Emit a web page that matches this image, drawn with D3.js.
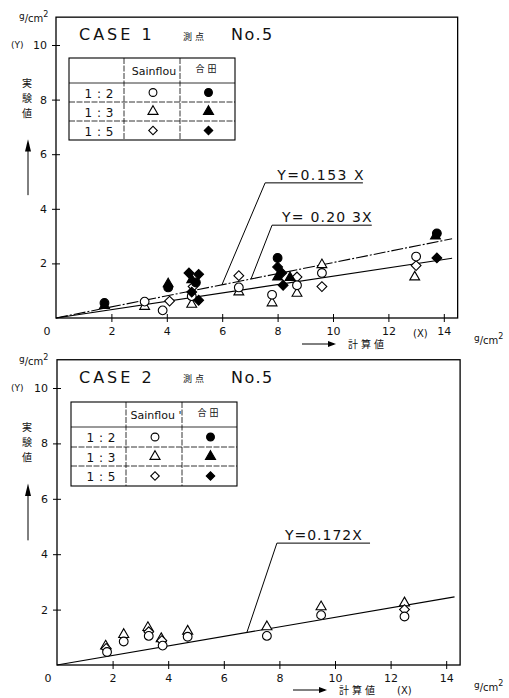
<!DOCTYPE html>
<html lang="ja">
<head>
<meta charset="utf-8">
<script src="https://d3js.org/d3.v7.min.js"></script>
<style>
  body { margin: 0; background: #fff; }
  svg { display: block; }
  text { font-family: "DejaVu Sans", "Liberation Sans", sans-serif; fill: #111; }
  .jp { font-family: "Noto Sans CJK JP", sans-serif; }
</style>
</head>
<body>
<svg width="509" height="698"></svg>
<script>
// ---- data (units g/cm2) ----
var xTicks = [2, 4, 6, 8, 10, 12, 14];
var yTicks = [2, 4, 6, 8, 10];
var ratioLabels = ["1:2", "1:3", "1:5"];

// CASE 1
var c1Sain12 = [[3.2,0.6],[3.85,0.28],[4.9,0.8],[6.6,1.12],[7.8,0.85],[8.7,1.2],[9.6,1.65],[13.0,2.25]];
var c1Sain13 = [[3.2,0.42],[4.9,0.5],[6.6,0.95],[7.8,0.55],[8.7,0.9],[9.6,1.95],[12.95,1.5]];
var c1Sain15 = [[4.1,0.62],[4.95,1.15],[6.6,1.55],[8.7,1.5],[9.6,1.15],[13.0,1.92]];
var c1Goda12 = [[1.75,0.55],[4.05,1.12],[5.05,1.3],[8.0,2.2],[13.75,3.1]];
var c1Goda13 = [[1.75,0.45],[4.05,1.25],[4.9,1.4],[8.0,1.5],[8.45,1.48],[13.7,3.0]];
var c1Goda15 = [[4.8,1.65],[5.15,1.6],[4.9,0.95],[5.15,0.65],[8.0,1.87],[8.15,1.65],[8.2,1.2],[13.75,2.2]];
var c1Slopes = [0.203, 0.153];

// CASE 2
var c2Sain12 = [[1.8,0.47],[2.4,0.85],[3.3,1.05],[3.8,0.7],[4.7,1.02],[7.55,1.05],[9.5,1.8],[12.5,1.75]];
var c2Sain13 = [[1.75,0.68],[2.4,1.1],[3.27,1.35],[3.75,0.95],[4.7,1.22],[7.55,1.38],[9.5,2.1],[12.5,2.24]];
var c2Sain15 = [[1.77,0.6],[3.3,1.2],[3.77,0.88],[12.5,2.0]];
var c2Slope = 0.172;

var svg = d3.select("svg");

function symbolPath(kind, size) {
  if (kind == "circle") return d3.symbol(d3.symbolCircle, size)();
  if (kind == "triangle") return d3.symbol(d3.symbolTriangle, size)();
  return d3.symbol(d3.symbolSquare, size)();
}

function drawMarks(g, x, y, data, kind, filled, size) {
  g.selectAll(null)
    .data(data)
    .enter().append("path")
    .attr("d", symbolPath(kind, size))
    .attr("transform", function(d) {
      return "translate(" + x(d[0]) + "," + y(d[1]) + ")" + (kind == "diamond" ? " rotate(45)" : "");
    })
    .attr("fill", filled ? "#000" : "#fff")
    .attr("stroke", "#000")
    .attr("stroke-width", 1.1);
}

function gcm(g, px, py, fs) {
  var t = g.append("text").attr("x", px).attr("y", py).attr("font-size", fs);
  t.append("tspan").attr("dy", -3).attr("font-size", fs - 1).text("g");
  t.append("tspan").attr("dy", 3).text("/cm");
  t.append("tspan").attr("dy", -5).attr("font-size", fs - 2).text("2");
}

function drawPanel(p) {
  var x = d3.scaleLinear().domain([0, 14.5]).range([p.left, p.left + 14.5 * p.xUnit]);
  var y = d3.scaleLinear().domain([0, 11.02]).range([p.bottom, p.bottom - 11.02 * p.yUnit]);
  var g = svg.append("g");

  // frame
  g.append("rect")
    .attr("x", x(0)).attr("y", y(11.02))
    .attr("width", x(14.5) - x(0)).attr("height", y(0) - y(11.02))
    .attr("fill", "none").attr("stroke", "#000").attr("stroke-width", 1.3);

  // axes with cross ticks
  g.append("g")
    .attr("transform", "translate(0," + (y(0) + 4) + ")")
    .call(d3.axisBottom(x).tickValues(xTicks).tickSize(8).tickFormat(d3.format("d")))
    .call(function(a) {
      a.select(".domain").remove();
      a.selectAll("line").attr("transform", "translate(0,-8)").attr("stroke-width", 1);
      a.selectAll("text").attr("y", 5).attr("font-size", 11).attr("font-family", "DejaVu Sans");
    });
  g.append("g")
    .attr("transform", "translate(" + (x(0) + 4) + ",0)")
    .call(d3.axisLeft(y).tickValues(yTicks).tickSize(8).tickFormat(d3.format("d")))
    .call(function(a) {
      a.select(".domain").remove();
      a.selectAll("line").attr("stroke-width", 1);
      a.selectAll("text").attr("x", -13).attr("font-size", 11).attr("font-family", "DejaVu Sans");
    });
  g.append("text").attr("x", x(0) - 9).attr("y", y(0) + 17)
    .attr("text-anchor", "middle").attr("font-size", 11).text("0");

  // axis captions
  gcm(g, 19, y(11.02) + 5, 10);
  g.append("text").attr("x", 11).attr("y", y(10) + 3).attr("font-size", 9).text("(Y)");
  var vt = g.append("text").attr("class", "jp").attr("font-size", 10).attr("text-anchor", "middle");
  ["実", "験", "値"].forEach(function(c, i) {
    vt.append("tspan").attr("x", 27).attr("y", y(8.45) + i * 15).text(c);
  });
  g.append("line").attr("x1", 28).attr("x2", 28)
    .attr("y1", y(4.5)).attr("y2", y(6.4)).attr("stroke", "#000").attr("stroke-width", 1);
  g.append("path").attr("d", d3.line()([[25, y(6.1)], [28, y(6.55)], [31, y(6.1)]]))
    .attr("fill", "#000");

  var cy = y(0) + p.capDy;
  g.append("line").attr("x1", p.arrowX).attr("x2", p.arrowX + 32)
    .attr("y1", cy - 4).attr("y2", cy - 4).attr("stroke", "#000");
  g.append("path")
    .attr("d", d3.line()([[p.arrowX + 26, cy - 7], [p.arrowX + 34, cy - 4], [p.arrowX + 26, cy - 1]]))
    .attr("fill", "#000");
  g.append("text").attr("class", "jp").attr("x", p.arrowX + 46).attr("y", cy)
    .attr("font-size", 10).attr("letter-spacing", 3).text("計算値");
  g.append("text").attr("x", p.xLabX).attr("y", cy + p.xLabDy).attr("font-size", 10).text("(X)");
  gcm(g, 474, cy + p.gcmDy, 10);

  // titles
  g.append("text").attr("x", 79).attr("y", y(10.18))
    .attr("font-size", 16).attr("letter-spacing", 3).text(p.title);
  g.append("text").attr("class", "jp").attr("x", 183).attr("y", y(10.2))
    .attr("font-size", 9).attr("letter-spacing", 3).text("測点");
  g.append("text").attr("x", 231).attr("y", y(10.18))
    .attr("font-size", 16).attr("letter-spacing", 1.5).text("No.5");

  // legend table
  var L = p.table;
  g.append("rect").attr("x", L.x0).attr("y", L.rows[0])
    .attr("width", L.x1 - L.x0).attr("height", L.rows[4] - L.rows[0])
    .attr("fill", "#fff").attr("stroke", "#000").attr("stroke-width", 1.1);
  [1, 2, 3].forEach(function(i) {
    g.append("line").attr("x1", L.x0).attr("x2", L.x1)
      .attr("y1", L.rows[i]).attr("y2", L.rows[i])
      .attr("stroke", "#000").attr("stroke-width", 0.8)
      .attr("stroke-dasharray", i == 1 ? null : "6,1.5");
  });
  L.cols.forEach(function(c) {
    g.append("line").attr("x1", c).attr("x2", c)
      .attr("y1", L.rows[0]).attr("y2", L.rows[4])
      .attr("stroke", "#000").attr("stroke-width", 0.8).attr("stroke-dasharray", "6,1.5");
  });
  g.append("text").attr("x", (L.cols[0] + L.cols[1]) / 2 + 2).attr("y", L.rows[1] - 8)
    .attr("text-anchor", "middle").attr("font-size", 11).text(p.sainText);
  g.append("text").attr("class", "jp").attr("x", (L.cols[1] + L.x1) / 2).attr("y", L.rows[1] - 11)
    .attr("text-anchor", "middle").attr("font-size", 9).attr("letter-spacing", 3).text("合田");
  var kinds = ["circle", "triangle", "diamond"];
  ratioLabels.forEach(function(r, i) {
    var ym = (L.rows[i + 1] + L.rows[i + 2]) / 2;
    g.append("text").attr("x", L.cols[0] - 10).attr("y", ym + 5)
      .attr("text-anchor", "end").attr("font-size", 12).attr("letter-spacing", 0.5).text(r.replace(":", " : "));
    [false, true].forEach(function(f, j) {
      g.append("path")
        .attr("d", symbolPath(kinds[i], kinds[i] == "triangle" ? 44 : (kinds[i] == "diamond" ? 36 : 48)))
        .attr("transform", "translate(" + ((j == 0 ? (L.cols[0] + L.cols[1]) / 2 : (L.cols[1] + L.x1) / 2) + 1) + "," + ym + ")" + (kinds[i] == "diamond" ? " rotate(45)" : ""))
        .attr("fill", f ? "#000" : "#fff").attr("stroke", "#000").attr("stroke-width", 1.1);
    });
  });

  // regression lines
  p.lines.forEach(function(ln) {
    g.append("line")
      .attr("x1", x(0)).attr("y1", y(0))
      .attr("x2", x(14.3)).attr("y2", y(14.3 * ln.k))
      .attr("stroke", "#000").attr("stroke-width", 1.1)
      .attr("stroke-dasharray", ln.dash);
  });
  p.notes.forEach(function(n) {
    g.append("path")
      .attr("d", d3.line()([[x(n.tx1), y(n.ty)], [x(n.tx0), y(n.ty)], [x(n.px), y(n.px * n.k)]]))
      .attr("fill", "none").attr("stroke", "#000").attr("stroke-width", 1);
    g.append("text").attr("x", x(n.tx0) + n.dx).attr("y", y(n.ty) - 3)
      .attr("font-size", 14).attr("letter-spacing", n.ls).text(n.label);
  });

  p.series.forEach(function(s) { drawMarks(g, x, y, s.data, s.kind, s.filled, s.size); });
}

drawPanel({
  title: "CASE 1", left: 56, bottom: 318, xUnit: 27.7, yUnit: 27.3,
  capDy: 30, arrowX: 302, xLabX: 413, xLabDy: -11, gcmDy: -4,
  sainText: "Sainflou",
  table: { x0: 69, x1: 235, rows: [58, 83, 102, 121, 140], cols: [124, 180] },
  lines: [{ k: c1Slopes[0], dash: "12,2,2,2" }, { k: c1Slopes[1], dash: null }],
  notes: [
    { label: "Y=0.153 X", tx0: 7.55, tx1: 11.08, ty: 4.95, px: 5.99, k: c1Slopes[0], dx: 12, ls: 1.5 },
    { label: "Y= 0.20 3X", tx0: 7.8, tx1: 11.4, ty: 3.4, px: 7.04, k: c1Slopes[0], dx: 10, ls: 1.2 }
  ],
  series: [
    { data: c1Sain13, kind: "triangle", filled: false, size: 42 },
    { data: c1Sain15, kind: "diamond", filled: false, size: 48 },
    { data: c1Sain12, kind: "circle", filled: false, size: 60 },
    { data: c1Goda13, kind: "triangle", filled: true, size: 42 },
    { data: c1Goda12, kind: "circle", filled: true, size: 60 },
    { data: c1Goda15, kind: "diamond", filled: true, size: 48 }
  ]
});

drawPanel({
  title: "CASE 2", left: 57, bottom: 665, xUnit: 27.8, yUnit: 27.7,
  capDy: 29, arrowX: 293, xLabX: 397, xLabDy: 0, gcmDy: -3,
  sainText: "Sainflou '",
  table: { x0: 71, x1: 237, rows: [402, 427, 447, 466, 486], cols: [126, 182] },
  lines: [{ k: c2Slope, dash: null }],
  notes: [
    { label: "Y=0.172X", tx0: 7.91, tx1: 11.26, ty: 4.4, px: 6.83, k: c2Slope, dx: 8, ls: 1 }
  ],
  series: [
    { data: c2Sain13, kind: "triangle", filled: false, size: 44 },
    { data: c2Sain15, kind: "diamond", filled: false, size: 48 },
    { data: c2Sain12, kind: "circle", filled: false, size: 60 }
  ]
});
</script>
</body>
</html>
